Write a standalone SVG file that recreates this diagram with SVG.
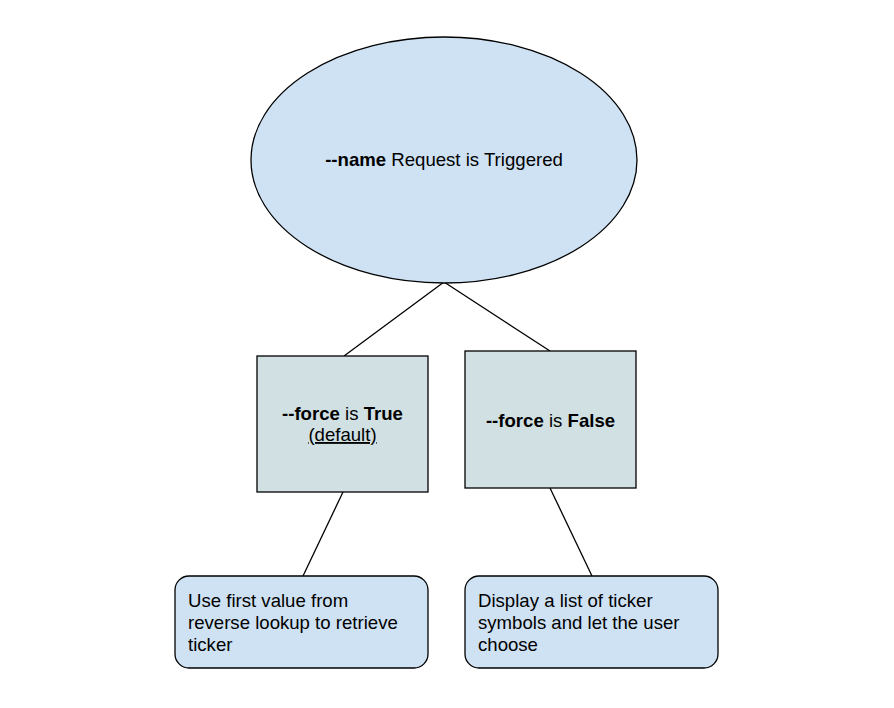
<svg xmlns="http://www.w3.org/2000/svg" width="894" height="708" viewBox="0 0 894 708">
<style>
text{font-family:"Liberation Sans",Arial,sans-serif;font-size:18.6px;fill:#000}
.b{font-weight:bold}
.shape{stroke:#000;stroke-width:1.3}
.blue{fill:#cfe2f3}
.teal{fill:#d0e0e3}
.conn line{stroke:#000;stroke-width:1.3}
</style>
<rect width="894" height="708" fill="#fff"/>
<g class="conn" id="connectors">
<line x1="444" y1="282" x2="344" y2="356"/>
<line x1="444" y1="282" x2="550" y2="351"/>
<line x1="343" y1="492" x2="303" y2="576"/>
<line x1="550" y1="488" x2="592" y2="576"/>
</g>
<g id="root">
<ellipse class="shape blue" cx="444" cy="160" rx="193" ry="123"/>
<text x="444" y="166" text-anchor="middle"><tspan class="b">--name</tspan> Request is Triggered</text>
</g>
<g id="forceTrue">
<rect class="shape teal" x="257" y="356" width="171" height="136"/>
<text x="342.5" y="420" text-anchor="middle"><tspan class="b">--force</tspan> is <tspan class="b">True</tspan></text>
<text x="342.5" y="441" text-anchor="middle" text-decoration="underline">(default)</text>
</g>
<g id="forceFalse">
<rect class="shape teal" x="465" y="351" width="171" height="137"/>
<text x="550.5" y="427" text-anchor="middle"><tspan class="b">--force</tspan> is <tspan class="b">False</tspan></text>
</g>
<g id="useFirst">
<rect class="shape blue" x="175" y="576" width="253" height="92" rx="14"/>
<text x="188" y="607">Use first value from</text>
<text x="188" y="629">reverse lookup to retrieve</text>
<text x="188" y="651">ticker</text>
</g>
<g id="displayList">
<rect class="shape blue" x="465" y="576" width="253" height="92" rx="14"/>
<text x="478" y="607">Display a list of ticker</text>
<text x="478" y="629">symbols and let the user</text>
<text x="478" y="651">choose</text>
</g>
</svg>
